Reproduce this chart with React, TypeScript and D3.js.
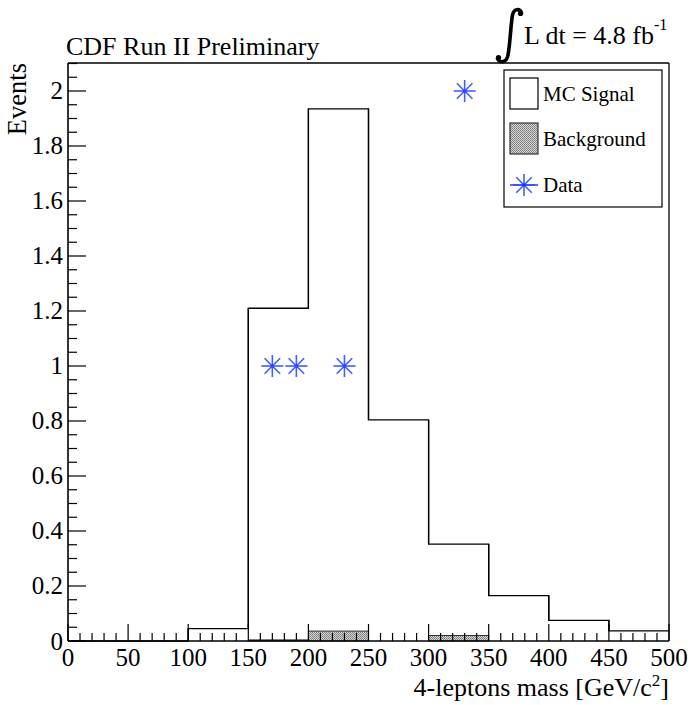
import React from "react";
import * as d3 from "d3";

const binEdges = [0, 50, 100, 150, 200, 250, 300, 350, 400, 450, 500];
const signalValues = [0, 0, 0.045, 1.21, 1.935, 0.804, 0.352, 0.165, 0.075, 0.037];
const backgroundValues = [0, 0, 0, 0.004, 0.036, 0, 0.02, 0, 0, 0];
const dataX = [170, 190, 230, 330];
const dataY = [1, 1, 1, 2];
const xTicks = [0, 50, 100, 150, 200, 250, 300, 350, 400, 450, 500];
const yTicks = [0, 0.2, 0.4, 0.6, 0.8, 1, 1.2, 1.4, 1.6, 1.8, 2];
const legendLabels = ["MC Signal", "Background", "Data"];

const W = 692, H = 705;
const L = 68, R = 669, T = 63, B = 641;
const FONT = "'Liberation Serif', 'DejaVu Serif', serif";
const BLUE = "#2d4dff";

function Star({ cx, cy, r }: { cx: number; cy: number; r: number }) {
  const d = r * 0.707;
  return (
    <g stroke={BLUE} strokeWidth={1.6} opacity={0.9}>
      <line x1={cx - r} y1={cy} x2={cx + r} y2={cy} />
      <line x1={cx} y1={cy - r} x2={cx} y2={cy + r} />
      <line x1={cx - d} y1={cy - d} x2={cx + d} y2={cy + d} />
      <line x1={cx - d} y1={cy + d} x2={cx + d} y2={cy - d} />
      <circle cx={cx} cy={cy} r={1.8} fill="#1030ff" stroke="none" />
    </g>
  );
}

function stepPath(vals: number[], x: d3.ScaleLinear<number, number>, y: d3.ScaleLinear<number, number>) {
  const pts: [number, number][] = [];
  vals.forEach((v, i) => {
    pts.push([x(binEdges[i]), y(v)]);
    pts.push([x(binEdges[i + 1]), y(v)]);
  });
  return d3.line()(pts) as string;
}

export default function App() {
  const x = d3.scaleLinear().domain([0, 500]).range([L, R]);
  const y = d3.scaleLinear().domain([0, 2.1018]).range([B, T]);

  const xMinor = d3.range(0, 501, 10);
  const yMinor = d3.range(0, 2.101, 0.05);

  const sigPath = stepPath(signalValues, x, y);

  return (
    <svg width={W} height={H} style={{ position: "absolute", left: 0, top: 0, background: "#fff" }}>
      <defs>
        <pattern id="bgpat" width="2" height="2" patternUnits="userSpaceOnUse">
          <rect width="2" height="2" fill="#d6d6d6" />
          <rect width="1" height="1" fill="#7a7a7a" />
          <rect x="1" y="1" width="1" height="1" fill="#8a8a8a" />
        </pattern>
      </defs>
      <rect x={0} y={0} width={W} height={H} fill="#fff" />

      {/* background histogram */}
      {backgroundValues.map((v, i) =>
        v > 0 ? (
          <rect
            key={i}
            x={x(binEdges[i])}
            y={y(v)}
            width={x(binEdges[i + 1]) - x(binEdges[i])}
            height={y(0) - y(v)}
            fill="url(#bgpat)"
            stroke="#333"
            strokeWidth={1}
          />
        ) : null
      )}

      {/* signal outline */}
      <path d={sigPath} fill="none" stroke="#000" strokeWidth={1.3} />
      {signalValues.map((v, i) =>
        i > 0 ? (
          <line
            key={i}
            x1={x(binEdges[i])}
            x2={x(binEdges[i])}
            y1={y(signalValues[i - 1])}
            y2={y(v)}
            stroke="#000"
            strokeWidth={1.3}
          />
        ) : null
      )}

      {/* frame */}
      <line x1={L} y1={T} x2={R} y2={T} stroke="#000" strokeWidth={1.3} />
      <line x1={R} y1={T} x2={R} y2={B} stroke="#000" strokeWidth={1.3} />
      <line x1={L} y1={T} x2={L} y2={B} stroke="#000" strokeWidth={1.6} />
      <line x1={L} y1={B} x2={R} y2={B} stroke="#000" strokeWidth={1.6} />

      {/* x ticks */}
      {xMinor.map((t) => {
        const major = t % 50 === 0;
        return (
          <line key={"xt" + t} x1={x(t)} x2={x(t)} y1={B} y2={B - (major ? 17 : 8)} stroke="#000" strokeWidth={1.2} />
        );
      })}
      {xTicks.map((t) => (
        <text key={"xl" + t} x={x(t)} y={666} fontFamily={FONT} fontSize={25} textAnchor="middle">
          {t}
        </text>
      ))}

      {/* y ticks */}
      {yMinor.map((t, i) => {
        const major = i % 4 === 0;
        return (
          <line key={"yt" + i} x1={L} x2={L + (major ? 18 : 9)} y1={y(t)} y2={y(t)} stroke="#000" strokeWidth={1.2} />
        );
      })}
      {yTicks.map((t) => (
        <text key={"yl" + t} x={63} y={y(t) + 8.5} fontFamily={FONT} fontSize={25} textAnchor="end">
          {String(Math.round(t * 10) / 10)}
        </text>
      ))}

      {/* data points */}
      {dataX.map((dx, i) => (
        <Star key={"d" + i} cx={x(dx)} cy={y(dataY[i])} r={11} />
      ))}

      {/* axis titles */}
      <text x={669} y={696} fontFamily={FONT} fontSize={26} textAnchor="end">
        4-leptons mass [GeV/c<tspan dy={-10} fontSize={17}>2</tspan><tspan dy={10}>]</tspan>
      </text>
      <text transform={`translate(26,63) rotate(-90)`} fontFamily={FONT} fontSize={26.5} textAnchor="end">
        Events
      </text>

      {/* title */}
      <text x={66} y={55} fontFamily={FONT} fontSize={26}>CDF Run II Preliminary</text>

      {/* luminosity: integral sign drawn as a path */}
      <path
        d="M 521.5 13 C 520 8.5, 514 8, 512.5 15 C 511 22, 510 45, 508 55 C 506.5 63, 500 63.5, 497.5 58.5"
        fill="none"
        stroke="#000"
        strokeWidth={3.6}
        strokeLinecap="round"
      />
      <circle cx={520.5} cy={13.5} r={2.6} fill="#000" />
      <circle cx={498.5} cy={57.5} r={2.6} fill="#000" />
      <text x={524} y={44} fontFamily={FONT} fontSize={26}>
        L dt = 4.8 fb<tspan dy={-14} fontSize={16}>-1</tspan>
      </text>

      {/* legend */}
      <rect x={504} y={70} width={158} height={137} fill="#fff" stroke="#000" strokeWidth={1.2} />
      <rect x={510} y={78} width={28} height={31} fill="#fff" stroke="#000" strokeWidth={1.2} />
      <rect x={510} y={123} width={28} height={31} fill="url(#bgpat)" stroke="#333" strokeWidth={1.2} />
      <line x1={510} x2={538} y1={185} y2={185} stroke={BLUE} strokeWidth={1.6} />
      <Star cx={524} cy={185} r={11} />
      <text x={543} y={101} fontFamily={FONT} fontSize={21}>{legendLabels[0]}</text>
      <text x={543} y={146} fontFamily={FONT} fontSize={21}>{legendLabels[1]}</text>
      <text x={543} y={192} fontFamily={FONT} fontSize={21}>{legendLabels[2]}</text>
    </svg>
  );
}
